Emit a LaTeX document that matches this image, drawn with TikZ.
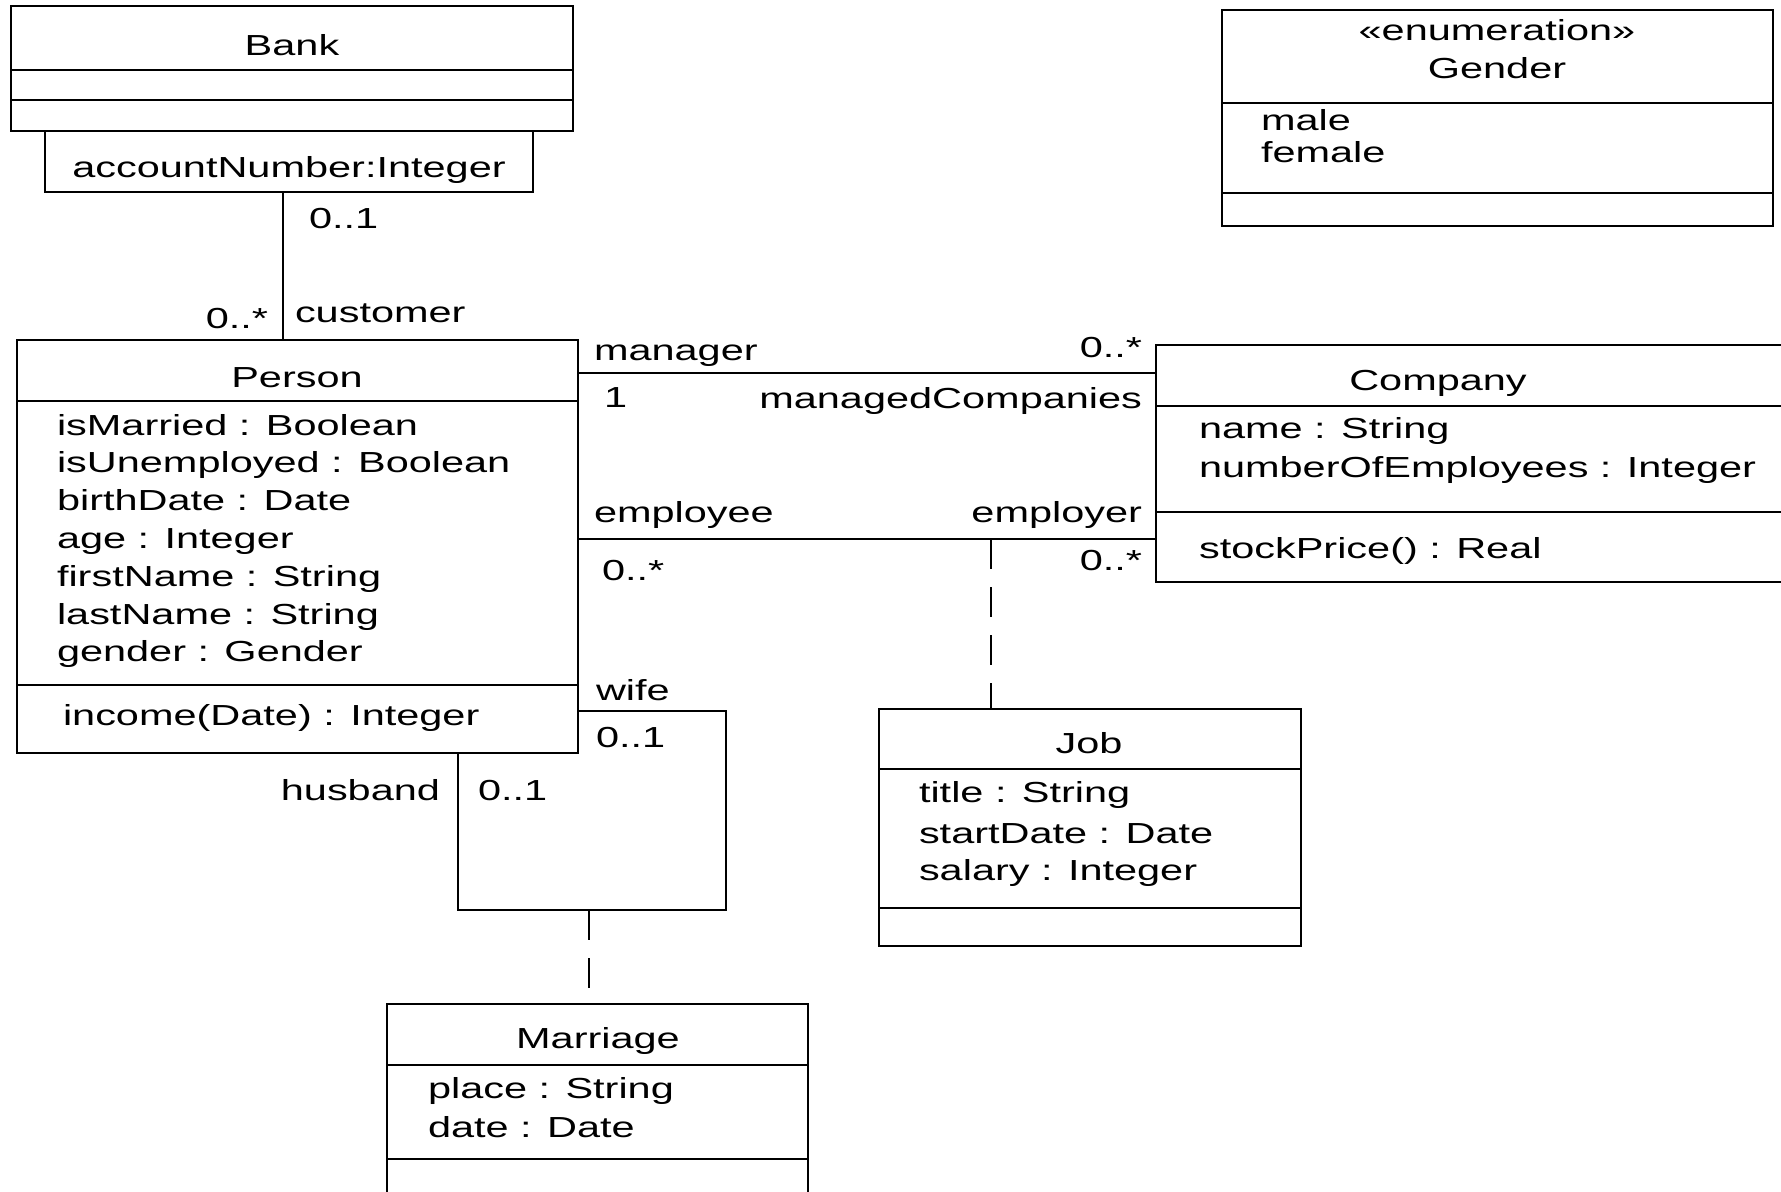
\documentclass[tikz,border=0pt]{standalone}
\usepackage{fontspec}
\setmainfont{Liberation Sans}[FakeStretch=1.43]
\usetikzlibrary{fit}
\begin{document}
\begin{tikzpicture}[x=0.5pt,y=-0.5pt,line width=1pt,
  box/.style={draw,inner sep=0pt,outer sep=0pt},
  txt/.style={inner sep=0pt,outer sep=0pt,font=\fontsize{14.5}{17}\selectfont},
  lw/.style={txt,anchor=base west},
  le/.style={txt,anchor=base east},
  lc/.style={txt,anchor=base},
  assoc/.style={draw,line width=1pt},
  dep/.style={draw,line width=1pt,dash pattern=on 15pt off 9pt}]
\useasboundingbox (0,0) rectangle (1781,1191);

% ---------- boxes ----------
\node[box,fit={(11,6) (573,131)}] (bank) {};
\draw (11,70) -- (573,70) (11,100) -- (573,100);
\node[box,fit={(45,131) (533,192)}] (qual) {};
\node[box,fit={(1222,10) (1773,226)}] (gender) {};
\draw (1222,103) -- (1773,103) (1222,193) -- (1773,193);
\node[box,fit={(17,340) (578,753)}] (person) {};
\draw (17,401) -- (578,401) (17,685) -- (578,685);
\node[box,fit={(1156,345) (1784,582)}] (company) {};
\draw (1156,406) -- (1784,406) (1156,512) -- (1784,512);
\node[box,fit={(879,709) (1301,946)}] (job) {};
\draw (879,769) -- (1301,769) (879,908) -- (1301,908);
\node[box,fit={(387,1004) (808,1240)}] (marriage) {};
\draw (387,1065) -- (808,1065) (387,1159) -- (808,1159);

% ---------- class texts ----------
\node[lc] (tbank) at (292,55) {Bank};
\node[lc] (tacct) at (289,177) {accountNumber:Integer};
\node[lc] (tenum) at (1497,40) {«enumeration»};
\node[lc] (tgender) at (1497,78) {Gender};
\node[lw] (tmale) at (1261,130) {male};
\node[lw] (tfemale) at (1261,162) {female};

\node[lc] (tperson) at (297,387) {Person};
\foreach \t [count=\i] in {isMarried : Boolean,isUnemployed : Boolean,birthDate : Date,age : Integer,firstName : String,lastName : String,gender : Gender}
  \node[lw] (pa\i) at (57,{435+37.8*(\i-1)}) {\t};
\node[lw] (pop) at (63,725) {income(Date) : Integer};

\node[lc] (tcompany) at (1438,390) {Company};
\node[lw] (ca1) at (1199,438) {name : String};
\node[lw] (ca2) at (1199,477) {numberOfEmployees : Integer};
\node[lw] (cop) at (1199,558) {stockPrice() : Real};

\node[lc] (tjob) at (1089,753) {Job};
\node[lw] (ja1) at (919,802) {title : String};
\node[lw] (ja2) at (919,843) {startDate : Date};
\node[lw] (ja3) at (919,880) {salary : Integer};

\node[lc] (tmarriage) at (598,1048) {Marriage};
\node[lw] (ma1) at (428,1098) {place : String};
\node[lw] (ma2) at (428,1137) {date : Date};

% ---------- connectors ----------
\coordinate (custx) at (283,0);
\draw[assoc] (qual.south -| custx) -- (person.north -| custx);

\coordinate (mgry) at (0,373);
\draw[assoc] (person.east |- mgry) -- (company.west |- mgry);

\coordinate (empy) at (0,539);
\draw[assoc] (person.east |- empy) -- (company.west |- empy);

\coordinate (jobx) at (991,539);
\draw[dep] (jobx) -- (job.north -| jobx);

\coordinate (w1) at (726,711);
\coordinate (w2) at (458,910);
\draw[assoc] (person.east |- w1) -- (w1) |- (w2) -- (person.south -| w2);

\coordinate (mj) at (589,910);
\draw[dep] (mj) -- (marriage.north -| mj);

% ---------- association labels ----------
\node[lw] (l01a) at (309,228) {0..1};
\node[le] (l0sa) at (268,328) {0..*};
\node[lw] (lcust) at (295,322) {customer};

\node[lw] (lmgr) at (594,360) {manager};
\node[le] (l0sb) at (1142,357) {0..*};
\node[lw] (l1) at (604,407) {1};
\node[le] (lmc) at (1142,408) {managedCompanies};
\node[lw] (lemp) at (594,522) {employee};
\node[le] (lempr) at (1142,522) {employer};
\node[lw] (l0sc) at (602,580) {0..*};
\node[le] (l0sd) at (1142,570) {0..*};

\node[lw] (lwife) at (596,700) {wife};
\node[lw] (l01b) at (596,747) {0..1};
\node[le] (lhus) at (440,800) {husband};
\node[lw] (l01c) at (478,800) {0..1};
\end{tikzpicture}
\end{document}
